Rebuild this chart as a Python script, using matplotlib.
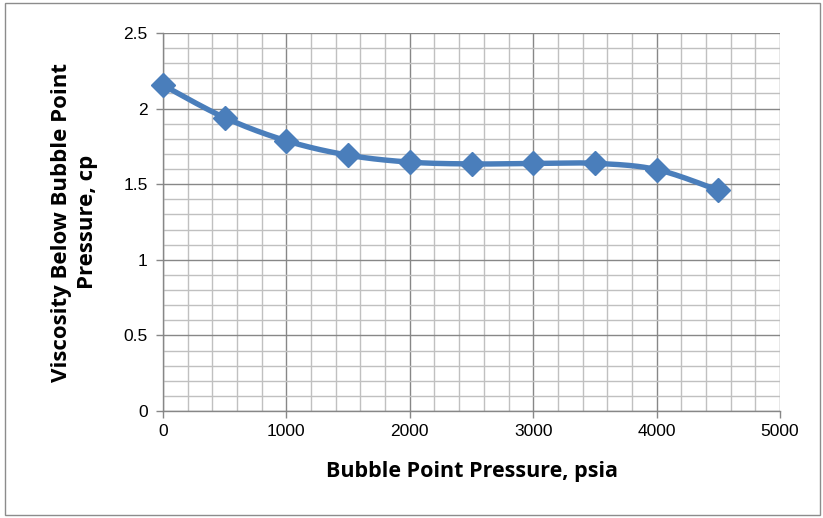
import numpy as np
import matplotlib
matplotlib.use("Agg")
import matplotlib.pyplot as plt
from matplotlib.ticker import MultipleLocator
from matplotlib.patches import Rectangle

pressure = [0, 500, 1000, 1500, 2000, 2500, 3000, 3500, 4000, 4500]
viscosity = [2.155, 1.94, 1.787, 1.692, 1.646, 1.634, 1.637, 1.638, 1.597, 1.46]

x_ticks = [0, 1000, 2000, 3000, 4000, 5000]
x_tick_labels = ["0", "1000", "2000", "3000", "4000", "5000"]
y_ticks = [0, 0.5, 1, 1.5, 2, 2.5]
y_tick_labels = ["0", "0.5", "1", "1.5", "2", "2.5"]

x_label = "Bubble Point Pressure, psia"
y_label = "Viscosity Below Bubble Point\nPressure, cp"


def smooth_curve(xs, ys, n=30):
    """Catmull-Rom style smoothing through every point (like a smoothed line chart)."""
    xs = np.asarray(xs, float)
    ys = np.asarray(ys, float)
    px = np.concatenate([[xs[0]], xs, [xs[-1]]])
    py = np.concatenate([[ys[0]], ys, [ys[-1]]])
    out_x, out_y = [], []
    for i in range(1, len(px) - 2):
        p0 = np.array([px[i - 1], py[i - 1]])
        p1 = np.array([px[i], py[i]])
        p2 = np.array([px[i + 1], py[i + 1]])
        p3 = np.array([px[i + 2], py[i + 2]])
        c1 = p1 + (p2 - p0) / 6.0
        c2 = p2 - (p3 - p1) / 6.0
        t = np.linspace(0, 1, n)[:, None]
        pts = ((1 - t) ** 3) * p1 + 3 * ((1 - t) ** 2) * t * c1 + 3 * (1 - t) * t ** 2 * c2 + t ** 3 * p2
        out_x.extend(pts[:, 0])
        out_y.extend(pts[:, 1])
    return np.array(out_x), np.array(out_y)


fig = plt.figure(figsize=(8.23, 5.18), dpi=100)
fig.patches.append(Rectangle((0.006, 0.006), 0.99, 0.988, transform=fig.transFigure,
                             fill=False, edgecolor="#8c8c8c", linewidth=1.0))

ax = fig.add_axes([163 / 823, 1 - 411 / 518, (780 - 163) / 823, (411 - 33) / 518])
ax.set_xlim(0, 5000)
ax.set_ylim(0, 2.5)

ax.set_xticks(x_ticks)
ax.set_xticklabels(x_tick_labels)
ax.set_yticks(y_ticks)
ax.set_yticklabels(y_tick_labels)
ax.xaxis.set_minor_locator(MultipleLocator(200))
ax.yaxis.set_minor_locator(MultipleLocator(0.1))

ax.grid(which="minor", color="#c0c0c0", linewidth=1.0)
ax.grid(which="major", color="#878787", linewidth=1.0)
ax.set_axisbelow(True)

for side in ("top", "right"):
    ax.spines[side].set_visible(False)
for side in ("left", "bottom"):
    ax.spines[side].set_color("#878787")
    ax.spines[side].set_linewidth(1.0)

ax.tick_params(which="major", direction="out", length=5, color="#878787", width=1.0,
               labelsize=12.5, pad=6)
ax.tick_params(axis="x", which="major", pad=4)
ax.tick_params(which="minor", length=0)
for lbl in ax.get_xticklabels() + ax.get_yticklabels():
    lbl.set_family("Liberation Sans")

sx, sy = smooth_curve(pressure, viscosity)
ax.plot(sx, sy, color="#4a7ebb", linewidth=3.9, solid_capstyle="round", zorder=3, clip_on=False)
ax.plot(pressure, viscosity, linestyle="none", marker="D", markersize=12.5,
        color="#4a7ebb", zorder=4, clip_on=False)

ax.set_xlabel(x_label, fontsize=15.5, fontweight="bold", family="Open Sans", labelpad=16)
ax.set_ylabel(y_label, fontsize=16, fontweight="bold", family="Open Sans", labelpad=18,
              linespacing=1.35)

fig.savefig("out.png", dpi=100)
